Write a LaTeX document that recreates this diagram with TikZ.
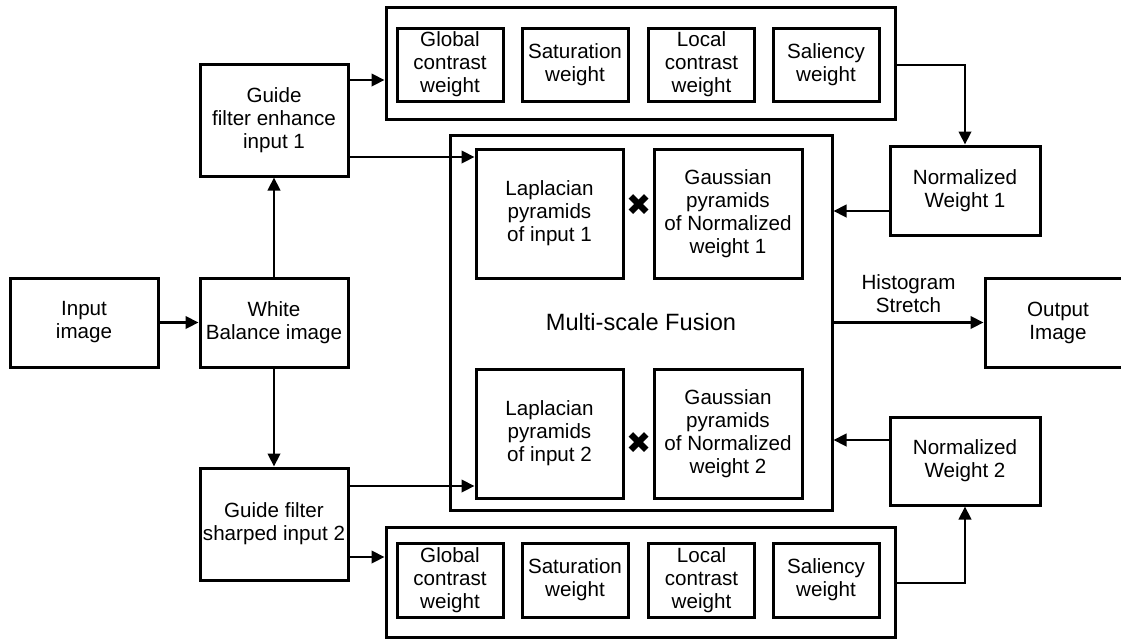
\documentclass[tikz,border=0pt]{standalone}
\usepackage{fontspec}
\setmainfont{Liberation Sans}
\newfontfamily\symfont{DejaVu Sans}
\usetikzlibrary{arrows.meta}

\begin{document}
\begin{tikzpicture}[x=0.5pt,y=-0.5pt,
  block/.style={draw,line width=1.5pt,align=center,inner sep=1pt,
    font=\fontsize{10.3}{11.5}\selectfont},
  link/.style={line width=1.4pt,-{Triangle[length=6.5pt,width=6.2pt]}}]
\useasboundingbox (0,0) rectangle (1121,639);
\clip (0,0) rectangle (1121,639);

% left column
\node[block,minimum width=74pt,minimum height=44.5pt] (input) at (84,322.5) {Input\\image};
\node[block,minimum width=74pt,minimum height=44.5pt] (wb) at (274,322.5) {White\\Balance image};
\node[block,minimum width=74pt,minimum height=56pt] (guide1) at (274,120) {Guide\\filter enhance\\input 1};
\node[block,minimum width=74pt,minimum height=56pt] (guide2) at (274,524) {Guide filter\\sharped input 2};

% weight rows
\node[block,minimum width=254.5pt,minimum height=56pt] (topbox) at (640.5,63) {};
\node[block,minimum width=254.5pt,minimum height=55pt] (botbox) at (640.5,582) {};
\foreach \n/\x/\t in {a/450/{Global\\contrast\\weight},b/575/{Saturation\\weight},
    c/701.5/{Local\\contrast\\weight},d/826/{Saliency\\weight}}{
  \node[block,minimum width=53pt,minimum height=36.5pt] (top\n) at (\x,64.5) {\t};
  \node[block,minimum width=53pt,minimum height=37pt] (bot\n) at (\x,580) {\t};
}

% fusion
\node[block,minimum width=191pt,minimum height=187.5pt,
  font=\fontsize{11.8}{13}\selectfont] (fusion) at (641,322.5) {Multi-scale Fusion};
\node[block,minimum width=73.5pt,minimum height=64.5pt] (lap1) at (549.5,213.5) {Laplacian\\pyramids\\of input 1};
\node[block,minimum width=74pt,minimum height=64.5pt] (gauss1) at (728,213.5) {Gaussian\\pyramids\\of Normalized\\weight 1};
\node[block,minimum width=73.5pt,minimum height=64.5pt] (lap2) at (549.5,433.5) {Laplacian\\pyramids\\of input 2};
\node[block,minimum width=74pt,minimum height=64.5pt] (gauss2) at (728,433.5) {Gaussian\\pyramids\\of Normalized\\weight 2};
\node[inner sep=0pt,font=\symfont\fontsize{15}{15}\selectfont] (mul1) at (639,205) {✖};
\node[inner sep=0pt,font=\symfont\fontsize{15}{15}\selectfont] (mul2) at (639,443) {✖};

% right column
\node[block,minimum width=75pt,minimum height=44.5pt] (nw1) at (965,190.5) {Normalized\\Weight 1};
\node[block,minimum width=75pt,minimum height=44pt] (nw2) at (965,461) {Normalized\\Weight 2};
\node[block,minimum width=73pt,minimum height=44.5pt] (output) at (1058,322.5) {Output\\Image};

% connectors
\draw[link] (input) -- (wb);
\draw[link] (wb) -- (guide1);
\draw[link] (wb) -- (guide2);
\draw[link] (guide1.east |- 0,80) -- (topbox.west |- 0,80);
\draw[link] (guide1.east |- 0,157) -- (lap1.west |- 0,157);
\draw[link] (guide2.east |- 0,486) -- (lap2.west |- 0,486);
\draw[link] (guide2.east |- 0,557) -- (botbox.west |- 0,557);
\draw[link] (topbox.east |- 0,65) -| (nw1.north);
\draw[link] (botbox.east |- 0,583) -| (nw2.south);
\draw[link] (nw1.west |- 0,211) -- (fusion.east |- 0,211);
\draw[link] (nw2.west |- 0,440) -- (fusion.east |- 0,440);
\draw[link] (fusion.east |- output.west) -- node[above=1pt,align=center,
  font=\fontsize{10.3}{11.5}\selectfont] {Histogram\\Stretch} (output.west);
\end{tikzpicture}
\end{document}
